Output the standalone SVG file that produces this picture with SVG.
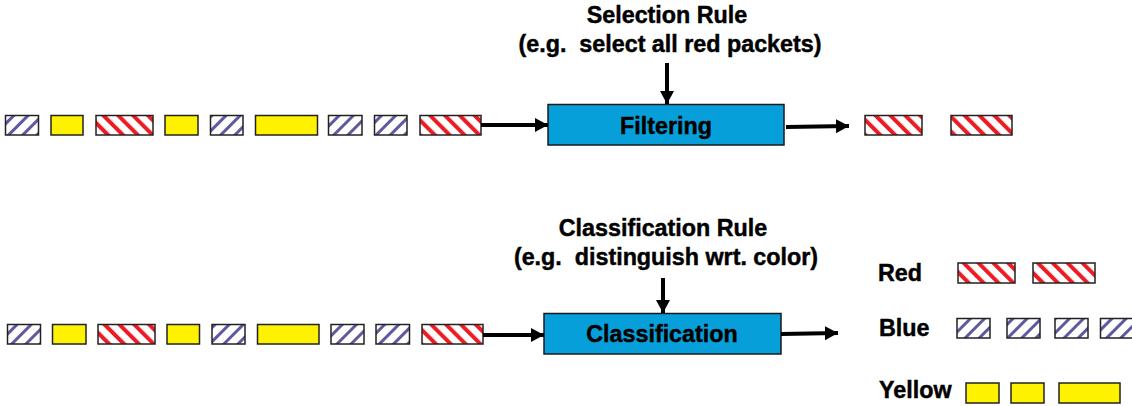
<svg xmlns="http://www.w3.org/2000/svg" width="1132" height="406" viewBox="0 0 1132 406">
<defs>
<pattern id="pBlue" patternUnits="userSpaceOnUse" width="10" height="10" patternTransform="rotate(45)">
<rect width="10" height="10" fill="#ffffff"/>
<rect x="0" y="0" width="3" height="10" fill="#5f5a9e"/>
</pattern>
<pattern id="pRed" patternUnits="userSpaceOnUse" width="10.5" height="10.5" patternTransform="rotate(-45)">
<rect width="10.5" height="10.5" fill="#ffffff"/>
<rect x="0" y="0" width="4" height="10.5" fill="#ec1c24"/>
</pattern>
<marker id="ah" markerUnits="userSpaceOnUse" markerWidth="14" markerHeight="15" refX="13" refY="7" orient="auto">
<path d="M0,0 L13,7 L0,14 z" fill="#000"/>
</marker>
</defs>
<style>
.b{fill:url(#pBlue);stroke:#222;stroke-width:1.5}
.r{fill:url(#pRed);stroke:#222;stroke-width:1.5}
.y{fill:#fff200;stroke:#222;stroke-width:1.5}
.box{fill:#079fd9;stroke:#1a1a1a;stroke-width:1.5}
.t{font-family:"Liberation Sans",Arial,sans-serif;font-weight:bold;font-size:23.3px;fill:#000;stroke:#000;stroke-width:0.45}
.c{stroke:#000;stroke-width:4;fill:none}
</style>

<g id="row1-input">
<rect class="b" x="5.5" y="115.5" width="33" height="19.5"/>
<rect class="y" x="51" y="115.5" width="32" height="19.5"/>
<rect class="r" x="96" y="115.5" width="57" height="19.5"/>
<rect class="y" x="165" y="115.5" width="33" height="19.5"/>
<rect class="b" x="210.5" y="115.5" width="32.5" height="19.5"/>
<rect class="y" x="255.5" y="115.5" width="62" height="19.5"/>
<rect class="b" x="328.5" y="115.5" width="33.5" height="19.5"/>
<rect class="b" x="374.5" y="115.5" width="32.5" height="19.5"/>
<rect class="r" x="420" y="115.5" width="61" height="19.5"/>
</g>

<g id="selection-rule">
<text class="t" x="667" y="23" text-anchor="middle">Selection Rule</text>
<text class="t" x="670" y="52" text-anchor="middle" xml:space="preserve">(e.g.  select all red packets)</text>
</g>

<g id="filtering">
<rect class="box" x="548" y="104.5" width="236" height="40.5"/>
<text class="t" x="666" y="133.5" text-anchor="middle">Filtering</text>
</g>

<g id="row1-output">
<rect class="r" x="865" y="115.5" width="57" height="19.5"/>
<rect class="r" x="951" y="115.5" width="61" height="19.5"/>
</g>

<g id="row2-input">
<rect class="b" x="7.5" y="324.5" width="33" height="19.5"/>
<rect class="y" x="52.5" y="324.5" width="33.5" height="19.5"/>
<rect class="r" x="98" y="324.5" width="57" height="19.5"/>
<rect class="y" x="167" y="324.5" width="32.5" height="19.5"/>
<rect class="b" x="212" y="324.5" width="33" height="19.5"/>
<rect class="y" x="257.5" y="324.5" width="61.5" height="19.5"/>
<rect class="b" x="331" y="324.5" width="33" height="19.5"/>
<rect class="b" x="376" y="324.5" width="33.5" height="19.5"/>
<rect class="r" x="422" y="324.5" width="61" height="19.5"/>
</g>

<g id="classification-rule">
<text class="t" x="663" y="236" text-anchor="middle">Classification Rule</text>
<text class="t" x="666" y="265" text-anchor="middle" xml:space="preserve">(e.g.  distinguish wrt. color)</text>
</g>

<g id="classification">
<rect class="box" x="544" y="313.5" width="237" height="40.5"/>
<text class="t" x="662" y="342" text-anchor="middle">Classification</text>
</g>

<g id="red-class">
<text class="t" x="878" y="281">Red</text>
<rect class="r" x="958" y="263" width="57" height="20"/>
<rect class="r" x="1033" y="263" width="62" height="20"/>
</g>

<g id="blue-class">
<text class="t" x="879" y="336">Blue</text>
<rect class="b" x="957" y="318.5" width="33" height="19.5"/>
<rect class="b" x="1007" y="318.5" width="33" height="19.5"/>
<rect class="b" x="1055" y="318.5" width="33" height="19.5"/>
<rect class="b" x="1100.5" y="318.5" width="33" height="19.5"/>
</g>

<g id="yellow-class">
<text class="t" x="879" y="398">Yellow</text>
<rect class="y" x="966" y="383" width="33" height="20"/>
<rect class="y" x="1011" y="383" width="33" height="20"/>
<rect class="y" x="1059" y="383" width="61" height="20"/>
</g>

<g id="connectors">
<line class="c" x1="481" y1="125" x2="548" y2="125" marker-end="url(#ah)"/>
<line class="c" x1="667" y1="63" x2="667" y2="104" marker-end="url(#ah)"/>
<line class="c" x1="786" y1="127" x2="849" y2="126" marker-end="url(#ah)"/>
<line class="c" x1="483" y1="335" x2="544" y2="335" marker-end="url(#ah)"/>
<line class="c" x1="663" y1="278" x2="663" y2="313" marker-end="url(#ah)"/>
<line class="c" x1="781" y1="334" x2="838" y2="333" marker-end="url(#ah)"/>
</g>
</svg>
